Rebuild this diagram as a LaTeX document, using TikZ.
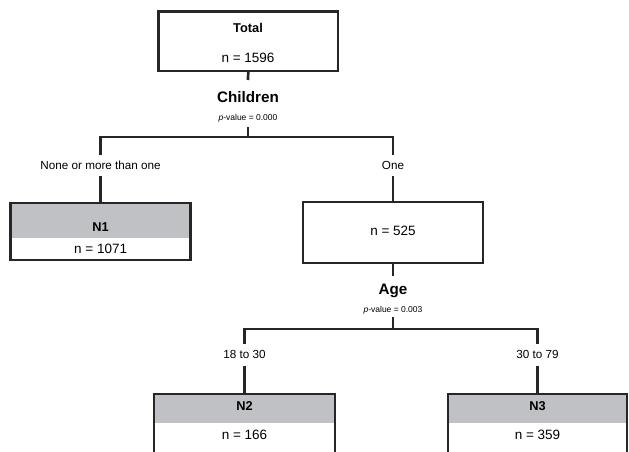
\documentclass[tikz,border=0pt]{standalone}
\usepackage{fontspec}
\setmainfont{Liberation Sans}
\definecolor{ln}{RGB}{38,38,38}
\definecolor{hd}{RGB}{192,193,197}
\tikzset{
  box/.style={draw=ln, line width=2.7pt, inner sep=0pt, outer sep=0pt},
  leaf/.style={box, path picture={\fill[hd] (path picture bounding box.north west) rectangle ([yshift=-#1]path picture bounding box.north east);}},
  conn/.style={draw=ln, line width=2.7pt, line join=miter},
  txt/.style={inner sep=0pt, outer sep=0pt, text depth=0pt},
  lbl/.style={txt, text height=8.4pt, font=\fontsize{11.7}{13}\selectfont},
  cnt/.style={txt, text height=9.7pt, font=\fontsize{13.5}{15}\selectfont},
  hdr/.style={txt, text height=9.2pt, font=\fontsize{12.8}{15}\selectfont\bfseries},
  var/.style={txt, text height=10.9pt, font=\fontsize{15.2}{17}\selectfont\bfseries},
  pv/.style={txt, text height=6.1pt, font=\fontsize{8.5}{10}\selectfont},
}
\begin{document}
\begin{tikzpicture}[x=1pt,y=-1pt]
\useasboundingbox (0,0) rectangle (629,452);
\clip (0,0) rectangle (629,452);
% root
\node[box, minimum width=179.5pt, minimum height=59.5pt] (total) at (248.25,41.25) {};
\node[hdr] (totalt) at (248,28) {Total};
\node[cnt] (totaln) at (248,58) {n = 1596};
\node[var, minimum height=34pt] (children) at (248,97) {Children};
\node[pv, minimum height=20pt] (pv1) at (248,117) {\textit{p}-value = 0.000};
\coordinate (j1) at (248,137);
\coordinate (jl) at (100.6,137);
\coordinate (jr) at (393,137);
\node[lbl, minimum height=21pt] (lblL) at (100.6,165.5) {None or more than one};
\node[lbl, minimum height=21pt] (lblR) at (393,165.5) {One};
% N1
\node[leaf=35pt, minimum width=179.8pt, minimum height=57pt] (n1) at (100.6,231.5) {};
\node[hdr] (n1t) at (100.6,227) {N1};
\node[cnt] (n1n) at (100.6,248.5) {n = 1071};
% 525
\node[box, minimum width=180pt, minimum height=61pt] (mid) at (393,232.5) {};
\node[cnt] (midn) at (393,230.5) {n = 525};
\node[var, minimum height=26pt] (age) at (393,289) {Age};
\node[pv, minimum height=16pt] (pv2) at (393,309) {\textit{p}-value = 0.003};
\coordinate (j2) at (393,329);
\coordinate (j2l) at (244.5,329);
\coordinate (j2r) at (537.5,329);
\node[lbl, minimum height=22pt] (lbl2L) at (244.5,354.5) {18 to 30};
\node[lbl, minimum height=22pt] (lbl2R) at (537.5,354.5) {30 to 79};
% N2, N3
\node[leaf=29pt, minimum width=181pt, minimum height=62pt] (n2) at (244.5,425) {};
\node[hdr] (n2t) at (244.5,406) {N2};
\node[cnt] (n2n) at (244.5,435) {n = 166};
\node[leaf=29pt, minimum width=179pt, minimum height=62pt] (n3) at (537.5,425) {};
\node[hdr] (n3t) at (537.5,406) {N3};
\node[cnt] (n3n) at (537.5,435) {n = 359};
% connectors
\draw[conn] (total.south) -- (children.north);
\draw[conn] (pv1.south) -- (j1);
\draw[conn] (lblL.north) -- (jl) -- (jr) -- (lblR.north);
\draw[conn] (lblL.south) -- (n1.north);
\draw[conn] (lblR.south) -- (mid.north);
\draw[conn] (mid.south) -- (age.north);
\draw[conn] (pv2.south) -- (j2);
\draw[conn] (lbl2L.north) -- (j2l) -- (j2r) -- (lbl2R.north);
\draw[conn] (lbl2L.south) -- (n2.north);
\draw[conn] (lbl2R.south) -- (n3.north);
\end{tikzpicture}
\end{document}
